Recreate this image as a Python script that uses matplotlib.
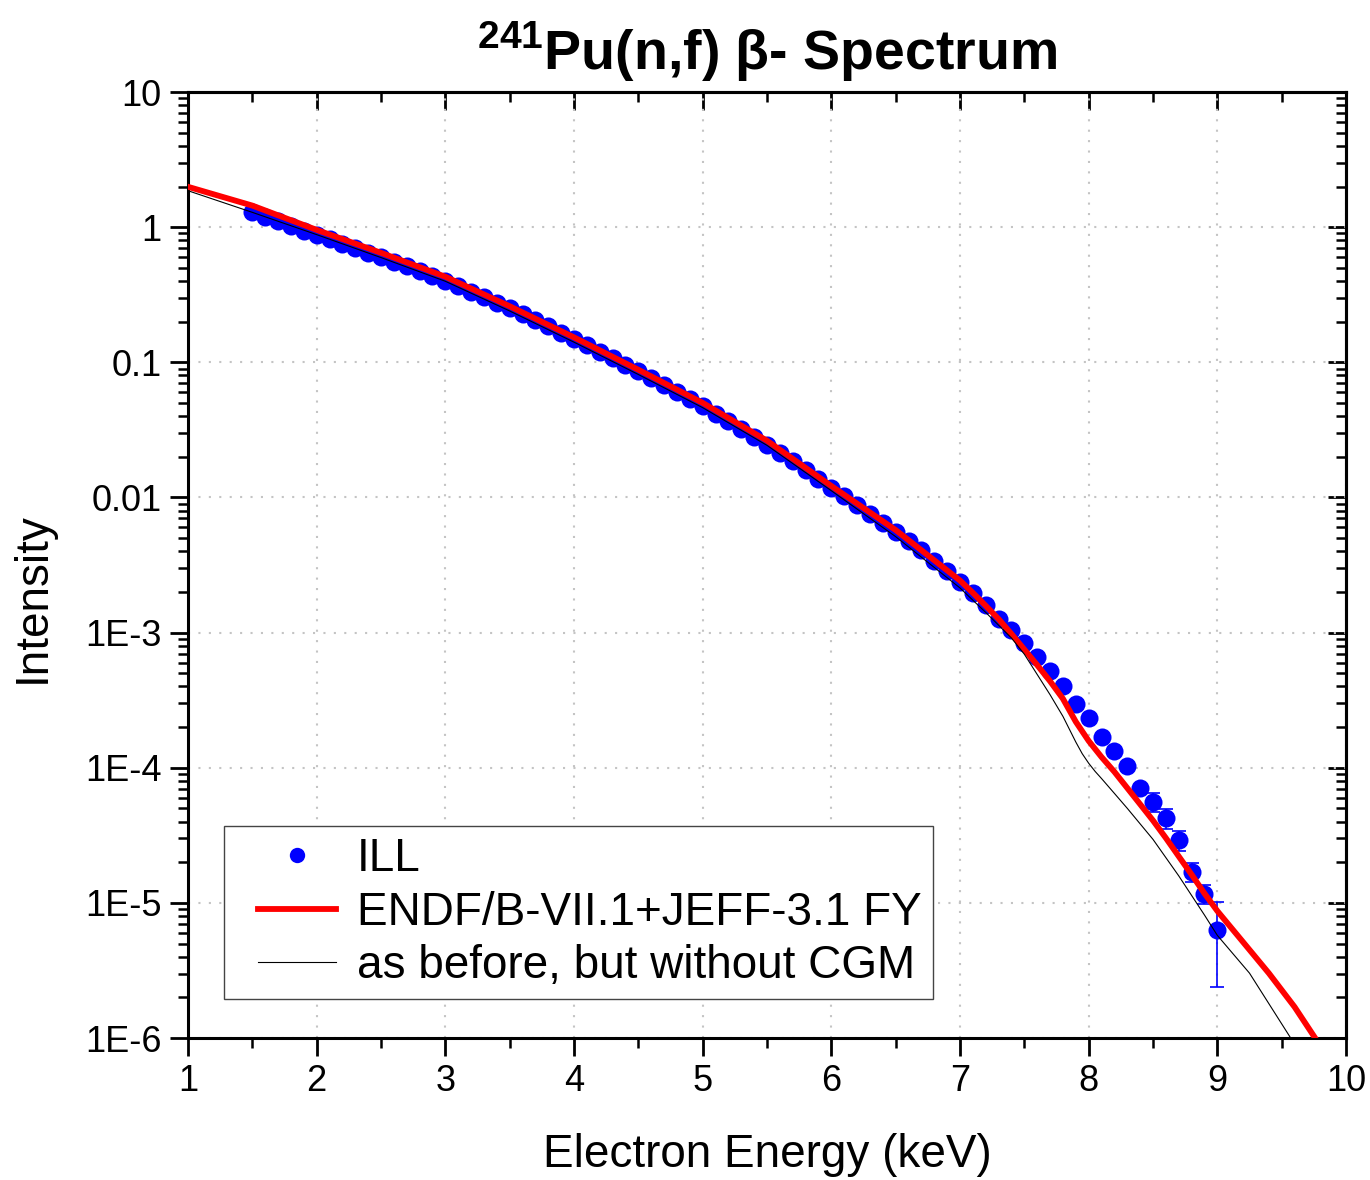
import numpy as np
import matplotlib
matplotlib.use("Agg")
import matplotlib.pyplot as plt
from matplotlib.ticker import FixedLocator, FixedFormatter, NullFormatter
from matplotlib.lines import Line2D
from matplotlib.legend_handler import HandlerLine2D

plt.rcParams['font.family'] = ['Liberation Sans', 'DejaVu Sans']
plt.rcParams['mathtext.fontset'] = 'custom'
plt.rcParams['mathtext.rm'] = 'Liberation Sans'
plt.rcParams['mathtext.bf'] = 'Liberation Sans:bold'

# ---------------- data ----------------
ill_energy = np.linspace(1.5, 9.0, 76)
ill_intensity = [
    1.288, 1.191, 1.102, 1.021, 0.944, 0.875,
    0.813, 0.755, 0.700, 0.649, 0.601, 0.556, 0.513, 0.473, 0.436, 0.400,
    0.366, 0.334, 0.304, 0.277, 0.251, 0.227, 0.205, 0.185, 0.166, 0.149,
    0.134, 0.120, 0.107, 0.0959, 0.0857, 0.0764, 0.0679, 0.0604, 0.0536, 0.0474,
    0.0418, 0.0367, 0.0322, 0.0282, 0.0246, 0.0214, 0.0186, 0.0160, 0.0138, 0.0118,
    0.0102, 0.00877, 0.00755, 0.00649, 0.00557, 0.00476, 0.00406, 0.00341, 0.00286, 0.00238,
    0.00195, 0.00160, 0.00127, 0.00104, 8.32e-4, 6.64e-4, 5.22e-4, 4.03e-4, 2.94e-4, 2.32e-4,
    1.70e-4, 1.34e-4, 1.03e-4, 7.03e-5, 5.61e-5, 4.23e-5, 2.92e-5, 1.70e-5, 1.17e-5, 6.30e-6,
]
err_energy = [8.5, 8.6, 8.7, 8.8, 8.9, 9.0]
err_intensity = [5.61e-5, 4.23e-5, 2.92e-5, 1.70e-5, 1.17e-5, 6.30e-6]
err_size = [0.9e-5, 0.7e-5, 0.5e-5, 0.28e-5, 0.19e-5, 0.39e-5]

endf_energy = [1.0, 1.5, 2.0, 2.5, 3.0, 3.5, 4.0, 4.5, 5.0, 5.5, 6.0, 6.5,
               7.0, 7.1, 7.2, 7.3, 7.4, 7.5, 7.6, 7.7, 7.8, 7.9, 8.0, 8.1, 8.2,
               8.3, 8.4, 8.5, 8.6, 8.7, 8.8, 8.9, 9.0, 9.2, 9.4, 9.6, 9.76]
endf_intensity = [1.99, 1.445, 0.955, 0.646, 0.430, 0.260, 0.153, 0.0881, 0.0501,
                  0.0263, 0.01216, 0.00574, 0.00243, 0.00197, 0.00158, 0.00126,
                  9.77e-4, 7.50e-4, 5.75e-4, 4.37e-4, 3.24e-4, 2.19e-4, 1.58e-4,
                  1.20e-4, 9.33e-5, 7.08e-5, 5.37e-5, 4.07e-5, 3.02e-5, 2.21e-5,
                  1.62e-5, 1.175e-5, 8.71e-6, 5.13e-6, 3.02e-6, 1.70e-6, 1.0e-6]

nocgm_energy = [1.0, 1.5, 2.0, 2.5, 3.0, 3.5, 4.0, 4.5, 5.0, 5.5, 6.0, 6.5,
                7.0, 7.2, 7.4, 7.5, 7.6, 7.7, 7.8, 7.9, 7.95, 8.0, 8.05, 8.1, 8.2, 8.3,
                8.5, 8.7, 8.9, 9.0, 9.25, 9.57]
nocgm_intensity = [1.862, 1.288, 0.881, 0.596, 0.398, 0.240, 0.141, 0.0813, 0.0462,
                   0.0243, 0.01122, 0.00513, 0.00214, 0.00141, 9.12e-4, 6.92e-4,
                   4.90e-4, 3.47e-4, 2.40e-4, 1.55e-4, 1.27e-4, 1.08e-4, 9.4e-5,
                   8.32e-5, 6.46e-5, 5.01e-5, 2.95e-5, 1.585e-5, 8.13e-6, 5.75e-6,
                   3.02e-6, 1.0e-6]

x_ticks = [1, 2, 3, 4, 5, 6, 7, 8, 9, 10]
y_ticks = [10, 1, 0.1, 0.01, 1e-3, 1e-4, 1e-5, 1e-6]
y_tick_labels = ['10', '1', '0.1', '0.01', '1E-3', '1E-4', '1E-5', '1E-6']

# ---------------- figure ----------------
fig = plt.figure(figsize=(13.7, 11.8), dpi=100)
ax = fig.add_axes([0.1372, 0.1203, 0.8453, 0.8017])

ax.plot(ill_energy, ill_intensity, 'o', color='#0000ff', markersize=13,
        markeredgewidth=0, label='ILL', zorder=3)
ax.errorbar(err_energy, err_intensity, yerr=err_size, fmt='none',
            ecolor='#0000ff', elinewidth=1.2, capsize=5, capthick=1.2, zorder=3)
ax.plot(endf_energy, endf_intensity, '-', color='#ff0000', linewidth=4.2,
        label='ENDF/B-VII.1+JEFF-3.1 FY', zorder=4)
ax.plot(nocgm_energy, nocgm_intensity, '-', color='black', linewidth=0.8,
        label='as before, but without CGM', zorder=5)

ax.set_yscale('log')
ax.set_xlim(1, 10)
ax.set_ylim(1e-6, 10)

ax.xaxis.set_major_locator(FixedLocator(x_ticks))
ax.xaxis.set_minor_locator(FixedLocator(np.arange(1.5, 10, 1.0)))
ax.yaxis.set_major_locator(FixedLocator(y_ticks))
ax.yaxis.set_major_formatter(FixedFormatter(y_tick_labels))
minor_y = [m * 10.0 ** e for e in range(-6, 1) for m in range(2, 10)]
ax.yaxis.set_minor_locator(FixedLocator(minor_y))
ax.yaxis.set_minor_formatter(NullFormatter())

ax.tick_params(which='major', direction='out', length=13, width=2.0,
               labelsize=26, top=False, right=False, pad=6)
ax.tick_params(which='minor', direction='out', length=7, width=1.8,
               top=False, right=False)

for s in ax.spines.values():
    s.set_linewidth(2.2)

# mirrored axes with inward ticks
secx = ax.secondary_xaxis('top')
secx.xaxis.set_major_locator(FixedLocator(x_ticks))
secx.xaxis.set_minor_locator(FixedLocator(np.arange(1.5, 10, 1.0)))
secx.tick_params(which='major', direction='in', length=13, width=2.0, labeltop=False)
secx.tick_params(which='minor', direction='in', length=7, width=1.8)
secx.spines['top'].set_linewidth(2.2)

secy = ax.secondary_yaxis('right')
secy.yaxis.set_major_locator(FixedLocator(y_ticks))
secy.yaxis.set_minor_locator(FixedLocator(minor_y))
secy.yaxis.set_major_formatter(NullFormatter())
secy.yaxis.set_minor_formatter(NullFormatter())
secy.tick_params(which='major', direction='in', length=13, width=2.0, labelright=False)
secy.tick_params(which='minor', direction='in', length=7, width=1.8)
secy.spines['right'].set_linewidth(2.2)

ax.grid(True, which='major', linestyle=(0, (1, 4)), color='#c4c4c4', linewidth=1.5)

ax.set_xlabel('Electron Energy (keV)', fontsize=33, labelpad=24)
ax.set_ylabel('Intensity', fontsize=33)
ax.yaxis.set_label_coords(-0.115, 0.466)
ax.set_title(r'$^{\mathbf{241}}$Pu(n,f) β- Spectrum', fontsize=40,
             fontweight='bold', pad=16)

leg = ax.legend(loc='lower left', bbox_to_anchor=(0.031, 0.041),
                borderaxespad=0, fontsize=33, frameon=True, fancybox=False,
                edgecolor='#444444', framealpha=1, handlelength=2.2,
                handletextpad=0.45, labelspacing=0.2, borderpad=0.25,
                markerscale=0.85,
                handler_map={Line2D: HandlerLine2D(xpad=0.5)})
leg.get_frame().set_linewidth(1.0)

fig.savefig('out.png', dpi=100)
